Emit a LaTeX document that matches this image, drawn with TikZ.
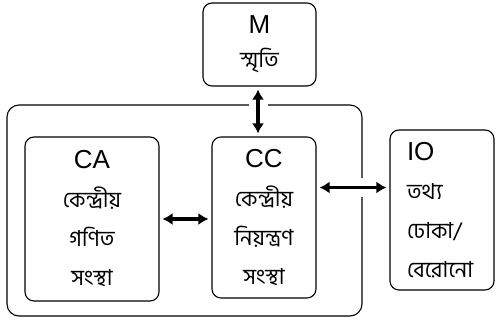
\documentclass[tikz,border=0pt]{standalone}
\usepackage{fontspec}
\setmainfont{Liberation Sans}
\newfontfamily\bnfont[Script=Bengali]{Hind Siliguri}
\usetikzlibrary{positioning}
\usetikzlibrary{arrows.meta}
\tikzset{
    mybox/.style = {rectangle, rounded corners=9pt, line width=1.1pt, draw=black, align=center, inner sep=0pt, font=\fontsize{22}{39}\selectfont},
    myboxl/.style = {mybox, align=left},
    mybig/.style = {rectangle, rounded corners=12pt, line width=1.1pt, draw=black, inner sep=0pt},
    edgea/.style = {{Latex[length=10pt,width=12pt]}-{Latex[length=10pt,width=12pt]}, line width=3.2pt, black, shorten <=3pt, shorten >=3pt},
    edgew/.style = {-, line width=19pt, white, shorten <=8pt, shorten >=8pt}
}
\newcommand{\lat}[1]{{\fontsize{26}{39}\selectfont #1}}
\newcommand{\bn}[1]{{\bnfont #1}}

\begin{document}
\begin{tikzpicture}[x=1pt,y=-1pt]
\path[use as bounding box] (0,0) rectangle (497,324);
%
\node[mybig, minimum width=355pt, minimum height=211pt] at (184.5,210.5) (cpu) {};
\node[mybox, minimum width=113pt, minimum height=83pt] at (259.5,44.5) (m) {\lat{M}\\[-5pt]\bn{স্মৃতি}};
\node[mybox, minimum width=134pt, minimum height=164pt] at (92,219) (ca) {\lat{CA}\\\bn{কেন্দ্রীয়}\\\bn{গণিত}\\\bn{সংস্থা}};
\node[mybox, minimum width=104pt, minimum height=161pt] at (264,217.5) (cc) {\lat{CC}\\\bn{কেন্দ্রীয়}\\\bn{নিয়ন্ত্রণ}\\\bn{সংস্থা}};
\node[myboxl, minimum width=104pt, minimum height=160pt, text width=98pt] at (442,210) (io) {\hspace*{14pt}\lat{IO}\\\hspace*{14pt}\bn{তথ্য}\\\hspace*{14pt}\bn{ঢোকা/}\\\hspace*{14pt}\bn{বেরোনো}};
%
\draw[edgew] (m.south -| 258,0) -- (cc.north -| 258,0);
\draw[edgew] ([yshift=30pt]cc.east) -- ([yshift=30pt]cc.east -| io.west);
\draw[edgea] (m.south -| 258,0) -- (cc.north -| 258,0);
\draw[edgea] (ca.east) -- (ca.east -| cc.west);
\draw[edgea] ([yshift=30pt]cc.east) -- ([yshift=30pt]cc.east -| io.west);
\end{tikzpicture}
\end{document}
